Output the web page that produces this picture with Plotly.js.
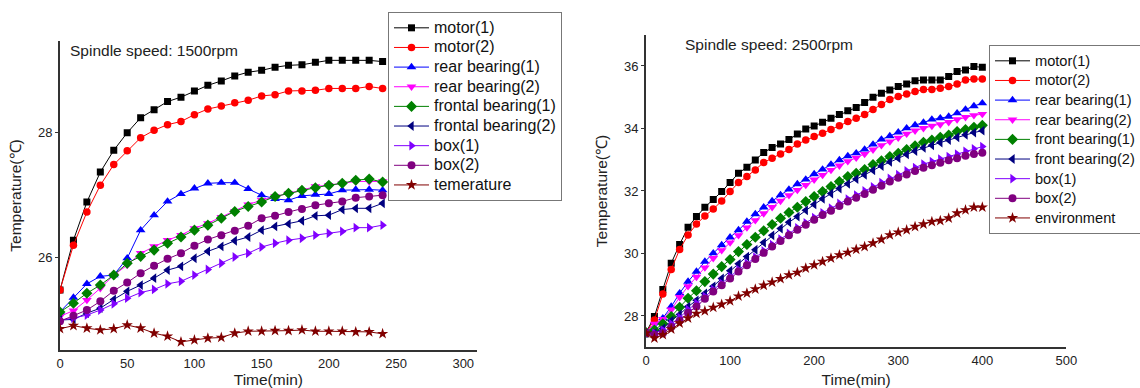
<!DOCTYPE html>
<html>
<head>
<meta charset="utf-8">
<script src="https://cdn.plot.ly/plotly-3.0.1.min.js"></script>
<style>
  html, body { margin: 0; padding: 0; background: #fff; }
  #chart { width: 1140px; height: 388px; }
</style>
</head>
<body>
<div id="chart"></div>
<script>
// ---------- Data: spindle speed 1500 rpm ----------
const time1500 = [0, 10, 20, 30, 40, 50, 60, 70, 80, 90, 100, 110, 120, 130, 140, 150, 160, 170, 180, 190, 200, 210, 220, 230, 240];
const motor1_1500 = [25.48, 26.28, 26.89, 27.37, 27.72, 28.00, 28.24, 28.37, 28.50, 28.57, 28.67, 28.76, 28.83, 28.91, 28.97, 29.00, 29.05, 29.08, 29.09, 29.13, 29.16, 29.16, 29.16, 29.16, 29.14];
const motor2_1500 = [25.48, 26.20, 26.73, 27.16, 27.49, 27.71, 27.92, 28.04, 28.13, 28.18, 28.29, 28.38, 28.43, 28.48, 28.52, 28.59, 28.61, 28.67, 28.67, 28.68, 28.71, 28.71, 28.71, 28.74, 28.71];
const rear1_1500 = [25.13, 25.36, 25.58, 25.70, 25.72, 25.99, 26.44, 26.68, 26.90, 27.02, 27.11, 27.19, 27.20, 27.20, 27.10, 27.00, 26.94, 26.92, 26.99, 27.01, 27.02, 27.08, 27.09, 27.09, 27.08];
const rear2_1500 = [25.06, 25.15, 25.32, 25.51, 25.72, 25.88, 26.07, 26.18, 26.28, 26.36, 26.47, 26.55, 26.65, 26.74, 26.85, 26.92, 26.98, 27.03, 27.08, 27.14, 27.16, 27.19, 27.22, 27.22, 27.22];
const frontal1_1500 = [25.13, 25.27, 25.43, 25.56, 25.72, 25.91, 26.02, 26.12, 26.23, 26.33, 26.44, 26.52, 26.63, 26.74, 26.82, 26.89, 26.98, 27.03, 27.08, 27.12, 27.16, 27.19, 27.24, 27.26, 27.21];
const frontal2_1500 = [25.00, 25.01, 25.11, 25.19, 25.33, 25.46, 25.56, 25.67, 25.80, 25.86, 25.99, 26.10, 26.18, 26.27, 26.33, 26.44, 26.50, 26.54, 26.59, 26.67, 26.68, 26.77, 26.79, 26.79, 26.87];
const box1_1500 = [25.00, 25.03, 25.08, 25.16, 25.26, 25.35, 25.44, 25.49, 25.58, 25.62, 25.72, 25.81, 25.91, 26.01, 26.07, 26.17, 26.23, 26.28, 26.31, 26.36, 26.39, 26.42, 26.48, 26.48, 26.52];
const box2_1500 = [24.98, 25.07, 25.16, 25.30, 25.47, 25.60, 25.75, 25.87, 25.98, 26.07, 26.19, 26.29, 26.36, 26.43, 26.51, 26.63, 26.67, 26.73, 26.78, 26.84, 26.87, 26.90, 26.96, 26.98, 27.00];
const ambient_1500 = [24.86, 24.91, 24.87, 24.84, 24.86, 24.92, 24.87, 24.79, 24.74, 24.65, 24.68, 24.71, 24.72, 24.79, 24.82, 24.82, 24.83, 24.83, 24.84, 24.82, 24.82, 24.82, 24.81, 24.81, 24.78];

// ---------- Data: spindle speed 2500 rpm ----------
const time2500 = [0, 10, 20, 30, 40, 50, 60, 70, 80, 90, 100, 110, 120, 130, 140, 150, 160, 170, 180, 190, 200, 210, 220, 230, 240, 250, 260, 270, 280, 290, 300, 310, 320, 330, 340, 350, 360, 370, 380, 390, 400];
const motor1_2500 = [27.47, 27.98, 28.85, 29.69, 30.29, 30.84, 31.18, 31.48, 31.73, 31.98, 32.27, 32.57, 32.76, 32.99, 33.23, 33.39, 33.50, 33.65, 33.82, 33.98, 34.08, 34.20, 34.33, 34.45, 34.57, 34.67, 34.83, 35.00, 35.13, 35.23, 35.34, 35.42, 35.53, 35.55, 35.55, 35.55, 35.66, 35.82, 35.87, 35.98, 35.96];
const motor2_2500 = [27.47, 27.87, 28.70, 29.49, 30.13, 30.59, 30.94, 31.20, 31.42, 31.68, 31.98, 32.27, 32.46, 32.67, 32.91, 33.05, 33.18, 33.33, 33.50, 33.63, 33.74, 33.85, 33.97, 34.09, 34.22, 34.33, 34.45, 34.61, 34.77, 34.93, 35.02, 35.10, 35.18, 35.25, 35.25, 35.29, 35.34, 35.42, 35.55, 35.58, 35.58];
const rear1_2500 = [27.47, 27.60, 27.93, 28.30, 28.73, 29.10, 29.42, 29.74, 30.01, 30.27, 30.52, 30.75, 31.02, 31.26, 31.48, 31.68, 31.87, 32.05, 32.22, 32.37, 32.54, 32.69, 32.85, 32.99, 33.12, 33.21, 33.33, 33.49, 33.65, 33.76, 33.88, 34.01, 34.11, 34.19, 34.29, 34.33, 34.38, 34.49, 34.61, 34.72, 34.81];
const rear2_2500 = [27.50, 27.75, 27.90, 28.20, 28.60, 28.95, 29.25, 29.55, 29.85, 30.10, 30.35, 30.58, 30.83, 31.06, 31.28, 31.48, 31.68, 31.86, 32.03, 32.19, 32.36, 32.51, 32.67, 32.81, 32.95, 33.06, 33.18, 33.32, 33.46, 33.58, 33.70, 33.83, 33.93, 34.01, 34.08, 34.13, 34.20, 34.29, 34.36, 34.42, 34.46];
const front1_2500 = [27.47, 27.55, 27.75, 27.98, 28.28, 28.57, 28.81, 29.10, 29.34, 29.58, 29.81, 30.06, 30.29, 30.52, 30.73, 30.93, 31.13, 31.31, 31.48, 31.66, 31.82, 31.98, 32.14, 32.30, 32.46, 32.57, 32.69, 32.85, 32.97, 33.10, 33.21, 33.33, 33.45, 33.56, 33.63, 33.72, 33.79, 33.90, 33.97, 34.04, 34.10];
const front2_2500 = [27.45, 27.45, 27.60, 27.85, 28.05, 28.30, 28.50, 28.72, 28.95, 29.20, 29.45, 29.67, 29.90, 30.12, 30.35, 30.58, 30.80, 31.00, 31.18, 31.38, 31.57, 31.75, 31.92, 32.08, 32.23, 32.38, 32.52, 32.66, 32.80, 32.93, 33.05, 33.17, 33.28, 33.38, 33.46, 33.55, 33.63, 33.72, 33.80, 33.87, 33.93];
const box1_2500 = [27.45, 27.45, 27.55, 27.75, 27.95, 28.20, 28.40, 28.62, 28.84, 29.04, 29.26, 29.48, 29.68, 29.88, 30.08, 30.28, 30.46, 30.64, 30.82, 30.98, 31.15, 31.30, 31.45, 31.60, 31.74, 31.87, 32.00, 32.13, 32.27, 32.40, 32.52, 32.64, 32.75, 32.86, 32.94, 33.02, 33.10, 33.18, 33.27, 33.35, 33.42];
const box2_2500 = [27.45, 27.40, 27.45, 27.65, 27.85, 28.10, 28.30, 28.55, 28.78, 28.98, 29.20, 29.42, 29.62, 29.82, 30.02, 30.22, 30.40, 30.58, 30.76, 30.92, 31.08, 31.23, 31.37, 31.52, 31.66, 31.78, 31.90, 32.04, 32.17, 32.30, 32.42, 32.53, 32.64, 32.74, 32.82, 32.90, 32.98, 33.05, 33.13, 33.18, 33.22];
const env_2500 = [27.45, 27.29, 27.40, 27.58, 27.77, 27.93, 28.08, 28.16, 28.27, 28.37, 28.48, 28.63, 28.73, 28.86, 28.98, 29.08, 29.19, 29.31, 29.39, 29.53, 29.63, 29.74, 29.85, 29.95, 30.03, 30.13, 30.22, 30.33, 30.45, 30.59, 30.68, 30.75, 30.86, 30.94, 31.02, 31.05, 31.13, 31.29, 31.39, 31.48, 31.48];

// ---------- Labels ----------
const names1500 = ["motor(1)", "motor(2)", "rear bearing(1)", "rear bearing(2)", "frontal bearing(1)", "frontal bearing(2)", "box(1)", "box(2)", "temerature"];
const names2500 = ["motor(1)", "motor(2)", "rear bearing(1)", "rear bearing(2)", "front bearing(1)", "front bearing(2)", "box(1)", "box(2)", "environment"];
const series1500 = [motor1_1500, motor2_1500, rear1_1500, rear2_1500, frontal1_1500, frontal2_1500, box1_1500, box2_1500, ambient_1500];
const series2500 = [motor1_2500, motor2_2500, rear1_2500, rear2_2500, front1_2500, front2_2500, box1_2500, box2_2500, env_2500];

// ---------- Styles ----------
const colors = ["#000000", "#ff0000", "#0000ff", "#ff00ff", "#008000", "#000080", "#8000ff", "#800080", "#800000"];
const symbols = ["square", "circle", "triangle-up", "triangle-down", "diamond", "triangle-left", "triangle-right", "circle", "star"];
const sizes = [7, 7.5, 8.5, 8.5, 8.5, 8.5, 8.5, 8, 8.5];

const FONT = "Arial, 'Liberation Sans', sans-serif";
const legendLabel = (s, px) => '<span style="font-size:' + px + 'px">' + s + '</span>';

const traces = [];
series1500.forEach((ys, i) => {
  traces.push({
    type: "scatter", mode: "lines+markers", x: time1500, y: ys, name: legendLabel(names1500[i], 16),
    xaxis: "x", yaxis: "y", legend: "legend",
    line: { color: colors[i], width: 1 },
    marker: { symbol: symbols[i], color: colors[i], size: sizes[i], line: { width: 0 } }
  });
});
series2500.forEach((ys, i) => {
  traces.push({
    type: "scatter", mode: "lines+markers", x: time2500, y: ys, name: legendLabel(names2500[i], 14.6),
    xaxis: "x2", yaxis: "y2", legend: "legend2",
    line: { color: colors[i], width: 1 },
    marker: { symbol: symbols[i], color: colors[i], size: sizes[i], line: { width: 0 } }
  });
});

const axisCommon = {
  showline: true, linecolor: "#333", linewidth: 2, showgrid: false, zeroline: false,
  tickfont: { family: FONT, size: 13, color: "#222" }, ticks: "", mirror: false, fixedrange: true
};
const legendCommon = {
  xanchor: "left", yanchor: "top", bgcolor: "#ffffff", bordercolor: "#777", borderwidth: 1,
  font: { family: FONT, size: 12.8, color: "#111" }, itemwidth: 35, tracegroupgap: 0
};

const layout = {
  width: 1140, height: 388,
  margin: { l: 0, r: 0, t: 0, b: 0, autoexpand: false },
  paper_bgcolor: "#fff", plot_bgcolor: "rgba(0,0,0,0)",
  font: { family: FONT, color: "#222" },
  showlegend: true,
  xaxis: Object.assign({}, axisCommon, {
    domain: [0.05263, 0.41816], range: [0, 310], tickvals: [0, 50, 100, 150, 200, 250, 300], anchor: "y",
    title: { text: "Time(min)", font: { family: FONT, size: 15.5, color: "#222" }, standoff: 8 }
  }),
  yaxis: Object.assign({}, axisCommon, {
    domain: [0.09794, 0.89433], range: [24.52, 29.47], tickvals: [26, 28], anchor: "x",
    ticks: "outside", ticklen: 3, tickcolor: "#333",
    title: { text: "Temperature(℃)", font: { family: FONT, size: 15.5, color: "#222" }, standoff: 12 }
  }),
  xaxis2: Object.assign({}, axisCommon, {
    domain: [0.56667, 0.93544], range: [0, 500], tickvals: [0, 100, 200, 300, 400, 500], anchor: "y2",
    title: { text: "Time(min)", font: { family: FONT, size: 15.5, color: "#222" }, standoff: 8 }
  }),
  yaxis2: Object.assign({}, axisCommon, {
    domain: [0.10503, 0.91044], range: [27, 37], tickvals: [28, 30, 32, 34, 36], anchor: "x2",
    ticks: "outside", ticklen: 3, tickcolor: "#333",
    title: { text: "Temperature(℃)", font: { family: FONT, size: 15.5, color: "#222" }, standoff: 12 }
  }),
  legend: Object.assign({}, legendCommon, { x: 388 / 1140, y: (388 - 12) / 388 }),
  legend2: Object.assign({}, legendCommon, { x: 989 / 1140, y: (388 - 45) / 388 }),
  annotations: [
    { xref: "paper", yref: "paper", x: 68 / 1140, y: (388 - 51) / 388, xanchor: "left", yanchor: "middle",
      text: "Spindle speed: 1500rpm", showarrow: false, font: { family: FONT, size: 15.5, color: "#222" } },
    { xref: "paper", yref: "paper", x: 683 / 1140, y: (388 - 44) / 388, xanchor: "left", yanchor: "middle",
      text: "Spindle speed: 2500rpm", showarrow: false, font: { family: FONT, size: 15.5, color: "#222" } }
  ]
};

Plotly.newPlot("chart", traces, layout, { staticPlot: true, displayModeBar: false });
</script>
</body>
</html>
